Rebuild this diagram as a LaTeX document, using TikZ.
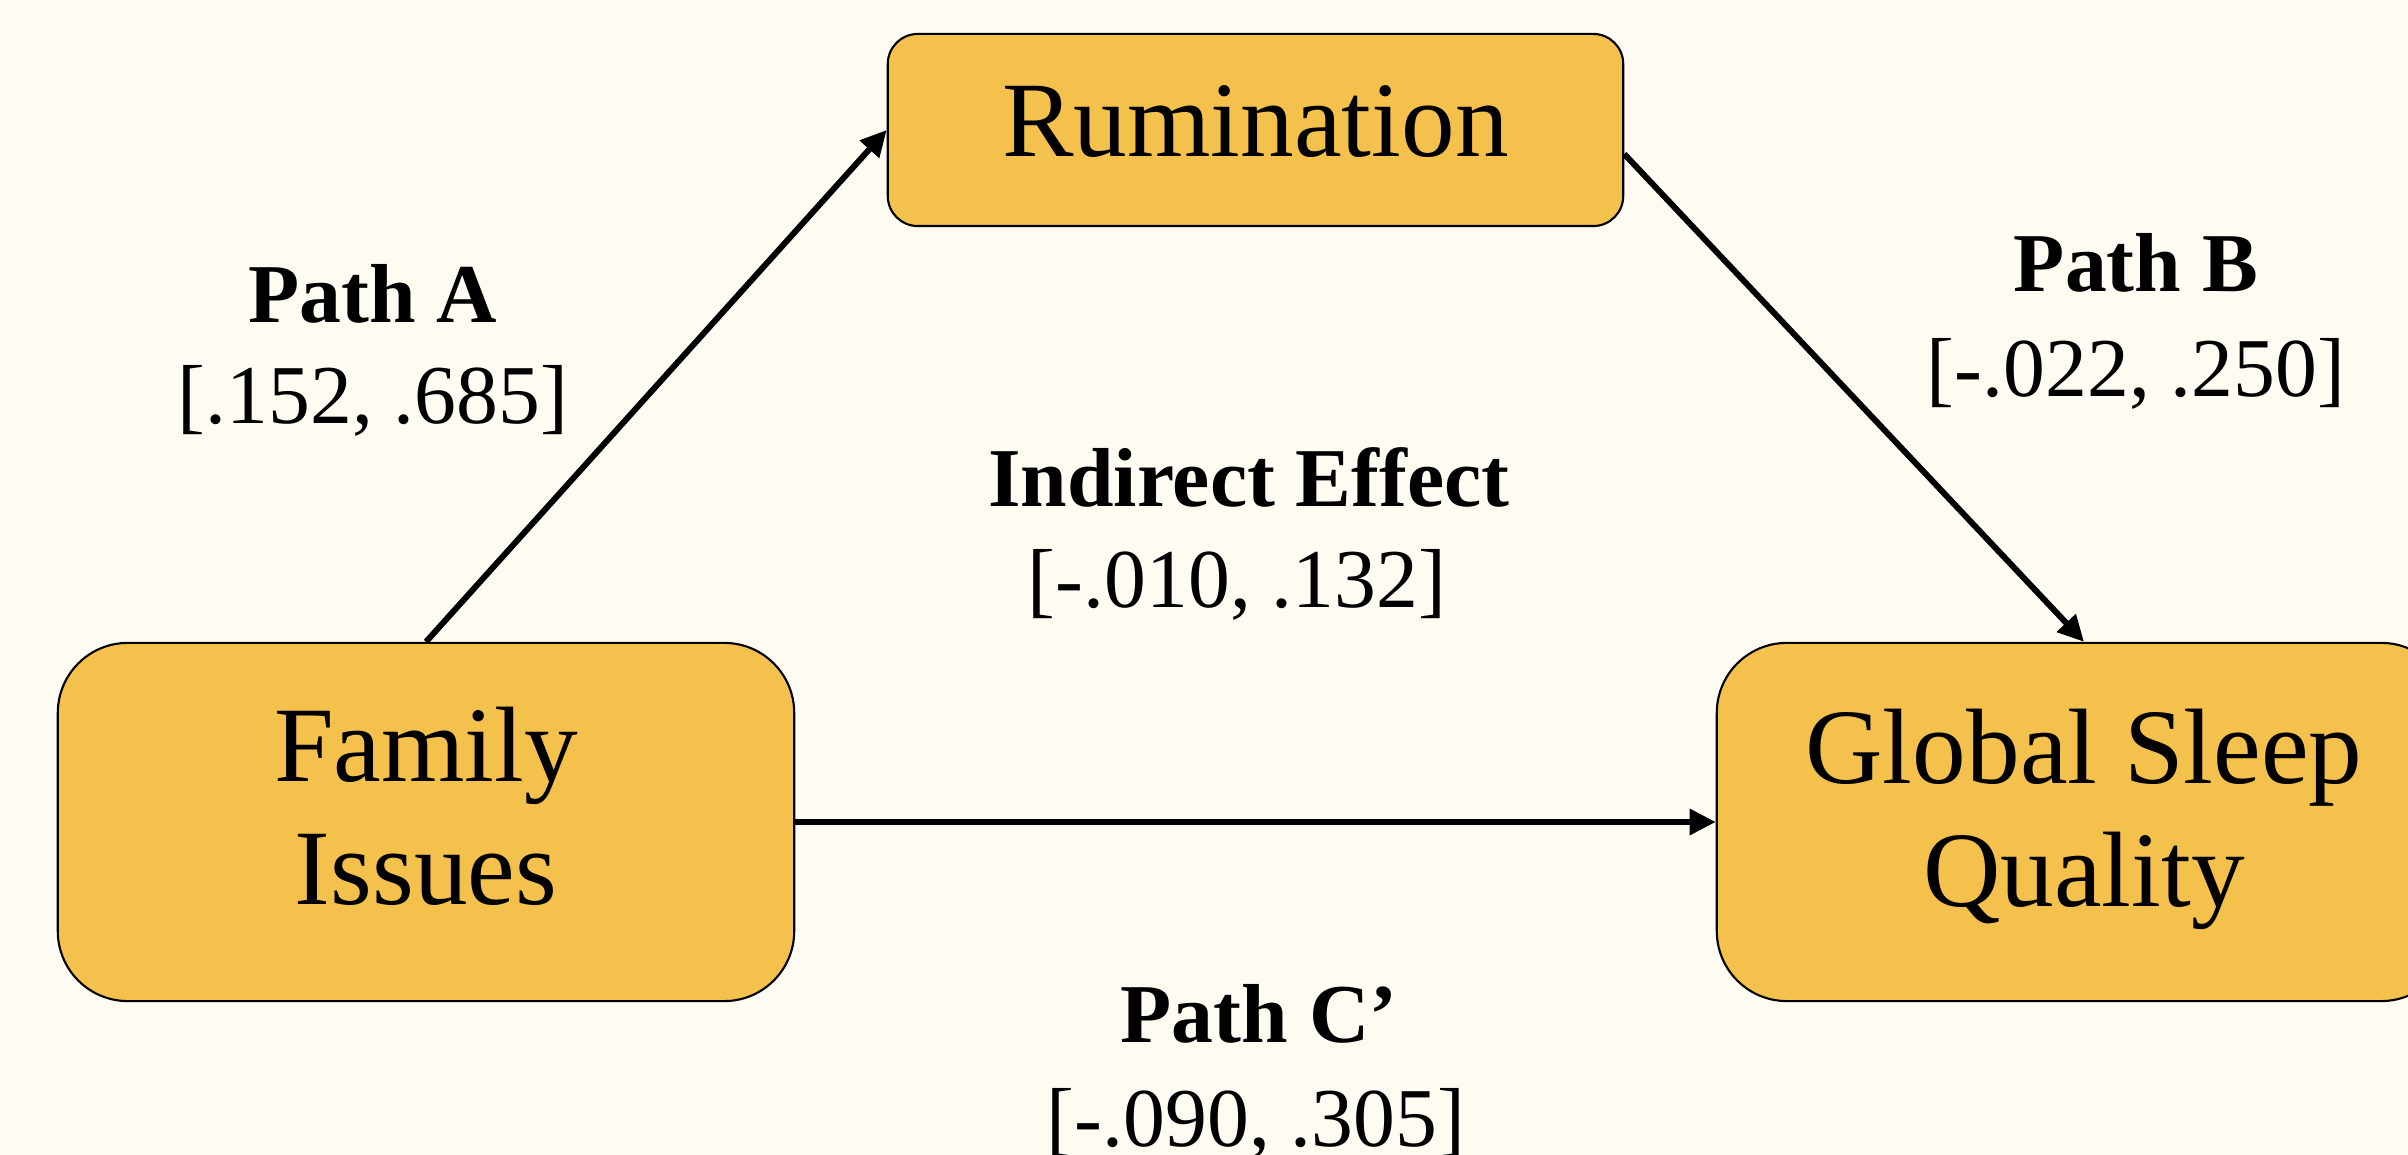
\documentclass[tikz,border=0pt]{standalone}
\usepackage{fontspec}
\setmainfont{Liberation Serif}
\usetikzlibrary{arrows.meta}
\definecolor{bgc}{RGB}{254,251,243}
\definecolor{boxc}{RGB}{245,193,77}
\tikzset{
  varbox/.style={draw=black, line width=0.6pt, fill=boxc, align=center, inner sep=0pt,
    font=\fontsize{30.5}{35}\selectfont},
  lab/.style={anchor=base, inner sep=0pt, font=\fontsize{23.8}{28}\selectfont},
  arr/.style={line width=1.7pt, -{Triangle[length=0.26cm,width=0.25cm]}}
}
\begin{document}
\begin{tikzpicture}[x=0.01cm,y=-0.01cm]
\useasboundingbox (0,0) rectangle (2408,1155);
\clip (0,0) rectangle (2408,1155);
\fill[bgc] (0,0) rectangle (2408,1155);

\node[varbox, minimum width=7.35cm, minimum height=1.92cm, rounded corners=0.3cm] (rum) at (1255.5,130)
  {Rumination\rule[-0.17cm]{0pt}{0pt}};
\node[varbox, minimum width=7.36cm, minimum height=3.58cm, rounded corners=0.7cm] (fam) at (426,822)
  {Family\\Issues\rule[-0.32cm]{0pt}{0pt}};
\node[varbox, minimum width=7.34cm, minimum height=3.58cm, rounded corners=0.7cm] (glob) at (2084,822)
  {Global Sleep\\Quality\rule[-0.28cm]{0pt}{0pt}};

\draw[arr] (fam.north) -- (rum.west);
\draw[arr] ([yshift=-0.24cm]rum.east) -- (glob.north);
\draw[arr] (fam.east) -- (glob.west);

\node[lab] (pa) at (373,323) {\textbf{Path A}};
\node[lab] (pav) at (373,424) {[.152, .685]};
\node[lab] (pb) at (2136,292) {\textbf{Path B}};
\node[lab] (pbv) at (2136,397) {[-.022, .250]};
\node[lab] (ie) at (1249,507) {\textbf{Indirect Effect}};
\node[lab] (iev) at (1237,608) {[-.010, .132]};
\node[lab] (pc) at (1259,1042) {\textbf{Path C’}};
\node[lab] (pcv) at (1256,1146) {[-.090, .305]};
\end{tikzpicture}
\end{document}
